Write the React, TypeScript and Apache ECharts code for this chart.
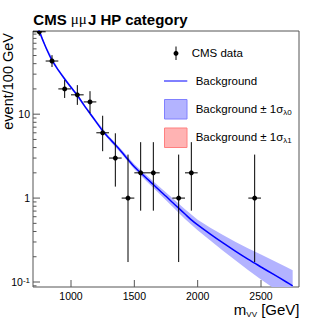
import React, { useEffect, useRef } from "react";
import * as echarts from "echarts";

// ---- data ----
const massCenters = [750, 850, 950, 1050, 1150, 1250, 1350, 1450, 1550, 1650, 1850, 1950, 2450];
const binHalfWidth = 50;
const eventCounts = [96, 43, 20, 17, 14, 6, 3, 1, 2, 2, 1, 2, 1];
const errLow = [86.2, 36.5, 15.6, 12.9, 10.3, 3.62, 1.37, 0.173, 0.708, 0.708, 0.173, 0.708, 0.173];
const errHigh = [106.8, 50.5, 25.5, 22.2, 18.8, 9.58, 5.92, 3.3, 4.64, 4.64, 3.3, 4.64, 3.3];

const fitMass = [700, 750, 800, 850, 900, 950, 1000, 1050, 1100, 1150, 1200, 1250, 1300, 1350, 1400, 1450, 1500, 1550, 1600, 1650, 1700, 1750, 1800, 1850, 1900, 1950, 2000, 2100, 2200, 2300, 2400, 2450, 2500, 2600, 2700, 2750];
const fitValues = [158.5, 97, 63.1, 43.7, 33.5, 26.3, 20.9, 16.8, 13.0, 10.2, 8.04, 6.31, 5.19, 4.32, 3.55, 2.88, 2.36, 2.0, 1.7, 1.45, 1.23, 1.05, 0.891, 0.759, 0.646, 0.55, 0.479, 0.372, 0.292, 0.232, 0.186, 0.168, 0.151, 0.123, 0.1, 0.09];

const bandMass = [700, 800, 900, 1000, 1100, 1200, 1300, 1400, 1500, 1600, 1700, 1800, 1900, 2000, 2100, 2200, 2300, 2400, 2500, 2600, 2700, 2750];
const bandLow = [152.1, 60.6, 32.1, 20.1, 12.5, 7.68, 4.93, 3.35, 2.2, 1.57, 1.12, 0.794, 0.565, 0.415, 0.312, 0.236, 0.18, 0.138, 0.107, 0.0845, 0.0664, 0.0586];
const bandHigh = [165.2, 65.8, 34.9, 21.8, 13.5, 8.42, 5.46, 3.76, 2.53, 1.84, 1.36, 1.0, 0.738, 0.552, 0.444, 0.362, 0.299, 0.251, 0.212, 0.179, 0.151, 0.138];

const xMajorTicks = [1000, 1500, 2000, 2500];
const yMajorTicks = [0.1, 1, 10];
const yMinorTicks = [0.09, 0.2, 0.3, 0.4, 0.5, 0.6, 0.7, 0.8, 0.9, 2, 3, 4, 5, 6, 7, 8, 9, 20, 30, 40, 50, 60, 70, 80, 90];

const titleBold1 = "CMS";
const titleMu = "μμ";
const titleBold2 = "J HP category";
const yTitle = "event/100 GeV";
const legendData = "CMS data";
const legendBkg = "Background";
const legendBand = "Background ± 1σ";
const legendSub0 = "λ0";
const legendSub1 = "λ1";

const FONT = '"Liberation Sans", Arial, Helvetica, sans-serif';
const SERIF = '"Liberation Serif", "DejaVu Serif", serif';

function textWidth(text: string, size: number, weight = "normal", family = FONT) {
  const ctx = document.createElement("canvas").getContext("2d");
  if (!ctx) return text.length * size * 0.55;
  ctx.font = `${weight} ${size}px ${family}`;
  return ctx.measureText(text).width;
}

function txt(x: number, y: number, text: string, size: number, opts: any = {}) {
  const align = opts.align || "left";
  const valign = opts.valign || "middle";
  return {
    type: "text",
    x,
    y,
    rotation: opts.rotation || 0,
    silent: true,
    z: 100,
    style: {
      text,
      fill: opts.fill || "#000",
      font: `${opts.weight || "normal"} ${size}px ${opts.family || FONT}`,
      fontSize: size,
      fontWeight: opts.weight || "normal",
      fontFamily: opts.family || FONT,
      align,
      textAlign: align,
      verticalAlign: valign,
      textVerticalAlign: valign,
    },
  };
}

export default function App() {
  const ref = useRef<HTMLDivElement>(null);
  useEffect(() => {
    if (!ref.current) return;
    const chart = echarts.init(ref.current, null, { renderer: "svg" });
    const X_MIN = 700;
    const X_MAX = 2800;
    const Y_MIN = 0.0872;
    const Y_MAX = 98;

    const graphics: any[] = [];
    // title
    let tx = 33.3;
    graphics.push(txt(tx, 19, titleBold1, 15, { weight: "bold" }));
    tx += textWidth(titleBold1 + " ", 15, "bold");
    graphics.push(txt(tx, 19, titleMu, 15, { family: SERIF }));
    tx += textWidth(titleMu, 15, "normal", SERIF) + 1;
    graphics.push(txt(tx, 19, titleBold2, 15, { weight: "bold" }));

    // y title
    graphics.push(txt(7.5, 33, yTitle, 14.5, { align: "right", rotation: Math.PI / 2 }));

    // x title m_VV [GeV]
    const wM = textWidth("m", 15);
    const wVV = textWidth("VV", 8);
    const wRest = textWidth(" [GeV]", 15);
    let xx = 299.5 - (wM + wVV + wRest);
    graphics.push(txt(xx, 309.5, "m", 15));
    xx += wM;
    graphics.push(txt(xx, 314.5, "VV", 8));
    xx += wVV;
    graphics.push(txt(xx, 309.5, " [GeV]", 15));

    // legend
    graphics.push({ type: "line", silent: true, z: 100, shape: { x1: 176, y1: 46.5, x2: 176, y2: 60 }, style: { stroke: "#000", lineWidth: 1 } });
    graphics.push({ type: "circle", silent: true, z: 100, shape: { cx: 176, cy: 53.3, r: 2.5 }, style: { fill: "#000" } });
    graphics.push(txt(191.7, 53, legendData, 11.5));

    graphics.push({ type: "line", silent: true, z: 100, shape: { x1: 164, y1: 81, x2: 187.3, y2: 81 }, style: { stroke: "#0000ff", lineWidth: 1 } });
    graphics.push(txt(195.7, 80.5, legendBkg, 11.5));

    graphics.push({ type: "rect", silent: true, z: 100, shape: { x: 164.5, y: 99.5, width: 22.5, height: 19.5 }, style: { fill: "#b3b3ff", stroke: "#8080ff", lineWidth: 1 } });
    const wBand = textWidth(legendBand, 11.5);
    graphics.push(txt(195.7, 109, legendBand, 11.5));
    graphics.push(txt(195.7 + wBand, 112.5, legendSub0, 8));

    graphics.push({ type: "rect", silent: true, z: 100, shape: { x: 164.5, y: 128, width: 22.5, height: 19.5 }, style: { fill: "#ffb3b3", stroke: "#ff8080", lineWidth: 1 } });
    graphics.push(txt(195.7, 137.3, legendBand, 11.5));
    graphics.push(txt(195.7 + wBand, 140.8, legendSub1, 8));

    const option: any = {
      animation: false,
      backgroundColor: "#fff",
      grid: {
        left: 33,
        top: 31,
        right: 33,
        bottom: 32,
        show: true,
        borderColor: "#555",
        borderWidth: 1,
        backgroundColor: "transparent",
        containLabel: false,
        outerBoundsMode: "none",
      },
      xAxis: {
        type: "value",
        min: X_MIN,
        max: X_MAX,
        interval: 100,
        axisLine: { show: false },
        axisTick: { show: false },
        splitLine: { show: false },
        axisLabel: {
          fontSize: 10.5,
          fontFamily: FONT,
          color: "#000",
          margin: 3,
          formatter: (v: number) => (xMajorTicks.indexOf(v) >= 0 ? String(v) : ""),
        },
      },
      yAxis: {
        type: "log",
        logBase: 10,
        min: Y_MIN,
        max: Y_MAX,
        axisLine: { show: false },
        axisTick: { show: false },
        splitLine: { show: false },
        minorTick: { show: false },
        axisLabel: {
          fontSize: 10.5,
          fontFamily: FONT,
          color: "#000",
          margin: 3,
          formatter: (v: number) => {
            const lg = Math.log10(v);
            const e = Math.round(lg);
            if (Math.abs(lg - e) > 1e-6) return "";
            if (e === 0) return "1";
            if (e === 1) return "10";
            if (e === -1) return "10{sup|-1}";
            return "";
          },
          rich: { sup: { fontSize: 8, fontFamily: FONT, color: "#000", verticalAlign: "top" } },
        },
      },
      graphic: graphics,
      series: [
        {
          type: "custom",
          name: "band",
          coordinateSystem: "cartesian2d",
          clip: true,
          silent: true,
          z: 1,
          data: bandMass.map((m, i) => [m, bandLow[i], bandHigh[i]]),
          encode: { x: 0, y: [1, 2] },
          renderItem: (params: any, api: any) => {
            if (params.dataIndex !== 0) return { type: "group", children: [] };
            const upper = bandMass.map((m, i) => api.coord([m, bandHigh[i]]));
            const lower = bandMass.map((m, i) => api.coord([m, bandLow[i]])).reverse();
            return { type: "polygon", shape: { points: upper.concat(lower) }, style: { fill: "#b3b3ff" } };
          },
        },
        {
          type: "line",
          name: "Background",
          z: 2,
          data: fitMass.map((m, i) => [m, fitValues[i]]),
          showSymbol: false,
          smooth: 0.3,
          lineStyle: { color: "#0000ff", width: 1.5 },
          silent: true,
          clip: true,
        },
        {
          type: "custom",
          name: "CMS data",
          coordinateSystem: "cartesian2d",
          clip: true,
          silent: true,
          z: 3,
          data: massCenters.map((m, i) => [m, eventCounts[i], errLow[i], errHigh[i]]),
          encode: { x: 0, y: 1 },
          renderItem: (params: any, api: any) => {
            const x = api.value(0);
            const y = api.value(1);
            const lo = api.value(2);
            const hi = api.value(3);
            const c = api.coord([x, y]);
            const l = api.coord([x - binHalfWidth, y]);
            const r = api.coord([x + binHalfWidth, y]);
            const t = api.coord([x, hi]);
            const b = api.coord([x, lo]);
            return {
              type: "group",
              children: [
                { type: "line", shape: { x1: l[0], y1: c[1], x2: r[0], y2: c[1] }, style: { stroke: "#000", lineWidth: 1 } },
                { type: "line", shape: { x1: c[0], y1: t[1], x2: c[0], y2: b[1] }, style: { stroke: "#000", lineWidth: 1 } },
                { type: "circle", shape: { cx: c[0], cy: c[1], r: 2.5 }, style: { fill: "#000" } },
              ],
            };
          },
        },
        {
          type: "custom",
          name: "yMajor",
          coordinateSystem: "cartesian2d",
          silent: true,
          z: 4,
          data: yMajorTicks.map((v) => [X_MIN, v]),
          renderItem: (params: any, api: any) => {
            const p = api.coord([api.value(0), api.value(1)]);
            return { type: "line", shape: { x1: p[0], y1: p[1], x2: p[0] + 7, y2: p[1] }, style: { stroke: "#555", lineWidth: 1 } };
          },
        },
        {
          type: "custom",
          name: "yMinor",
          coordinateSystem: "cartesian2d",
          silent: true,
          z: 4,
          data: yMinorTicks.map((v) => [X_MIN, v]),
          renderItem: (params: any, api: any) => {
            const p = api.coord([api.value(0), api.value(1)]);
            return { type: "line", shape: { x1: p[0], y1: p[1], x2: p[0] + 3.5, y2: p[1] }, style: { stroke: "#555", lineWidth: 1 } };
          },
        },
        {
          type: "custom",
          name: "xMajor",
          coordinateSystem: "cartesian2d",
          silent: true,
          z: 4,
          data: xMajorTicks.map((v) => [v, Y_MIN]),
          renderItem: (params: any, api: any) => {
            const p = api.coord([api.value(0), api.value(1)]);
            return { type: "line", shape: { x1: p[0], y1: p[1], x2: p[0], y2: p[1] - 7 }, style: { stroke: "#555", lineWidth: 1 } };
          },
        },
      ],
    };
    chart.setOption(option);
    return () => chart.dispose();
  }, []);
  return <div ref={ref} style={{ position: "fixed", left: 0, top: 0, width: 332, height: 319 }} />;
}
